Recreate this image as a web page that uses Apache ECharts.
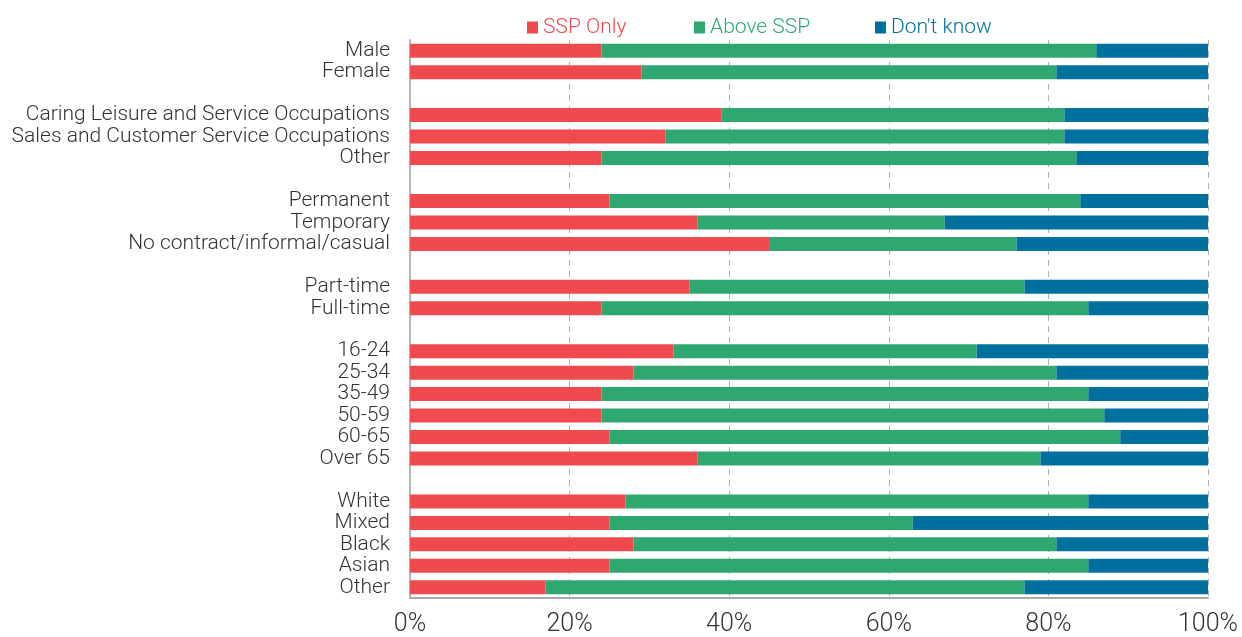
<!DOCTYPE html>
<html>
<head>
<meta charset="utf-8">
<script src="https://cdn.jsdelivr.net/npm/echarts@6/dist/echarts.min.js"></script>
<style>
  html, body { margin: 0; padding: 0; background: #fff; }
  #chart { width: 1242px; height: 637px; }
</style>
</head>
<body>
<div id="chart"></div>
<script>
// Row labels, top to bottom; empty strings are spacer rows between groups
const categories = [
  'Male', 'Female', '',
  'Caring Leisure and Service Occupations', 'Sales and Customer Service Occupations', 'Other', '',
  'Permanent', 'Temporary', 'No contract/informal/casual', '',
  'Part-time', 'Full-time', '',
  '16-24', '25-34', '35-49', '50-59', '60-65', 'Over 65', '',
  'White', 'Mixed', 'Black', 'Asian', 'Other'
];

// Shares (%) per row; null for spacer rows
const sspOnly = [24, 29, null, 39, 32, 24, null, 25, 36, 45, null, 35, 24, null, 33, 28, 24, 24, 25, 36, null, 27, 25, 28, 25, 17];
const aboveSsp = [62, 52, null, 43, 50, 59.5, null, 59, 31, 31, null, 42, 61, null, 38, 53, 61, 63, 64, 43, null, 58, 38, 53, 60, 60];
const dontKnow = [14, 19, null, 18, 18, 16.5, null, 16, 33, 24, null, 23, 15, null, 29, 19, 15, 13, 11, 21, null, 15, 37, 19, 15, 23];

const xTicks = [0, 20, 40, 60, 80, 100];

const seriesNames = ['SSP Only', 'Above SSP', "Don't know"];
const colors = ['#ef4b4e', '#2ea870', '#00709e'];
const legendLeft = [522, 689, 870];

const chart = echarts.init(document.getElementById('chart'), null, { renderer: 'canvas' });

const font = 'Roboto, "Noto Sans", sans-serif';

const legends = seriesNames.map((name, i) => ({
  left: legendLeft[i],
  top: 12,
  icon: 'rect',
  itemWidth: 11,
  itemHeight: 12,
  itemGap: 4,
  data: [{ name: name, textStyle: { color: colors[i] } }],
  textStyle: { fontFamily: font, fontSize: 21, fontWeight: 300, padding: [0, 0, 6, 0] },
  selectedMode: false
}));

const makeSeries = (name, data, color) => ({
  name: name,
  type: 'bar',
  stack: 'total',
  barWidth: 14,
  data: data,
  itemStyle: { color: color },
  emphasis: { disabled: true }
});

chart.setOption({
  animation: false,
  color: colors,
  legend: legends,
  grid: { left: 410, right: 34, top: 40, bottom: 39, containLabel: false },
  xAxis: {
    type: 'value',
    min: 0,
    max: 100,
    interval: 20,
    axisLine: { show: true, lineStyle: { color: '#aaaaaa', width: 2 } },
    axisTick: { show: false },
    splitLine: { show: true, lineStyle: { color: '#b0b0b0', type: [6, 5], width: 1 } },
    axisLabel: {
      margin: 14,
      fontFamily: font,
      fontSize: 25,
      fontWeight: 300,
      color: '#333',
      customValues: xTicks,
      formatter: v => v + '%'
    }
  },
  yAxis: {
    type: 'category',
    inverse: true,
    data: categories,
    axisLine: { show: true, lineStyle: { color: '#b5b5b5', width: 2 } },
    axisTick: { show: false },
    axisLabel: {
      margin: 20,
      fontFamily: font,
      fontSize: 21,
      fontWeight: 300,
      color: '#333',
      interval: 0
    }
  },
  series: [
    makeSeries(seriesNames[0], sspOnly, colors[0]),
    makeSeries(seriesNames[1], aboveSsp, colors[1]),
    makeSeries(seriesNames[2], dontKnow, colors[2])
  ]
});
</script>
</body>
</html>
